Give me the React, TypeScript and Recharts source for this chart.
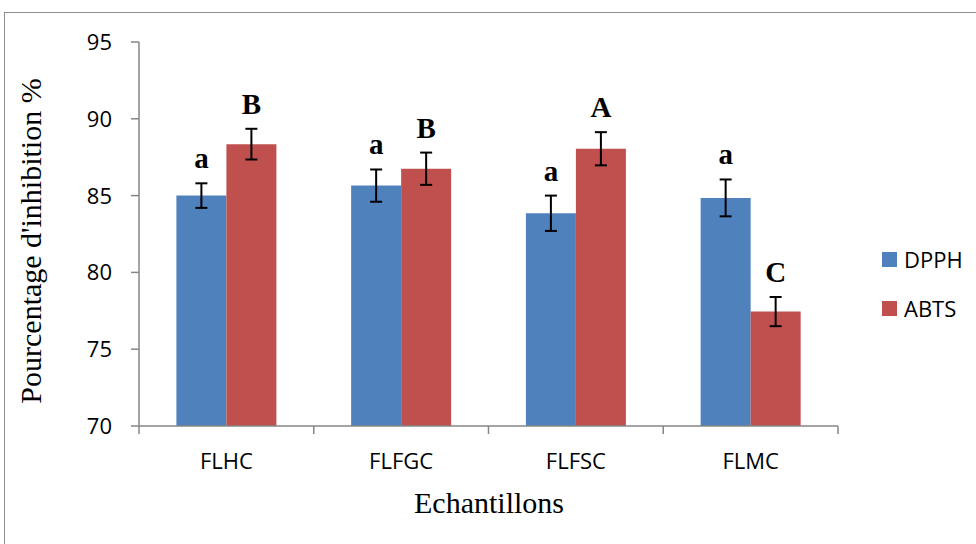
import React from "react";
import { BarChart, Bar, XAxis, YAxis, ErrorBar, LabelList } from "recharts";

const categories = ["FLHC", "FLFGC", "FLFSC", "FLMC"];
const dpphValues = [85.0, 85.65, 83.85, 84.85];
const dpphErrors = [0.8, 1.05, 1.15, 1.2];
const abtsValues = [88.35, 86.75, 88.05, 77.45];
const abtsErrors = [1.0, 1.05, 1.08, 0.95];
const dpphLetters = ["a", "a", "a", "a"];
const abtsLetters = ["B", "B", "A", "C"];
const yTicks = [70, 75, 80, 85, 90, 95];
const seriesNames = ["DPPH", "ABTS"];

const data = categories.map((c, i) => ({
  name: c,
  dpph: dpphValues[i],
  dpphErr: dpphErrors[i],
  abts: abtsValues[i],
  abtsErr: abtsErrors[i],
}));

const BLUE = "#4F81BD";
const RED = "#C0504D";
const AXIS = "#868686";
const SANS = "'Open Sans', 'Noto Sans', sans-serif";
const SERIF = "'Liberation Serif', 'DejaVu Serif', serif";
const SANS_SIZE = 22;

const W = 976;
const H = 544;
const M = { top: 42, right: 138, left: 0, bottom: 0 };
const Y_AXIS_W = 139;
const X_AXIS_H = 118;
const PLOT_W = W - M.right - Y_AXIS_W;

const XTick = (props: any) => {
  const { x, y, payload, index } = props;
  const half = payload && typeof payload.offset === "number" && payload.offset > 0 ? payload.offset : PLOT_W / categories.length / 2;
  return (
    <g>
      <line x1={x - half} y1={y} x2={x - half} y2={y + 8} stroke={AXIS} strokeWidth={1.5} />
      {index === categories.length - 1 && (
        <line x1={x + half} y1={y} x2={x + half} y2={y + 8} stroke={AXIS} strokeWidth={1.5} />
      )}
      <text x={x} y={y + 43} textAnchor="middle" fontFamily={SANS} fontSize={SANS_SIZE} fill="#000">
        {payload.value}
      </text>
    </g>
  );
};

const YTick = (props: any) => {
  const { x, y, payload } = props;
  return (
    <g>
      <line x1={x - 8} y1={y} x2={x} y2={y} stroke={AXIS} strokeWidth={1.5} />
      <text x={x - 27} y={y + 8} textAnchor="end" fontFamily={SANS} fontSize={SANS_SIZE} fill="#000">
        {payload.value}
      </text>
    </g>
  );
};

const makeLetterLabel = (letters: string[], values: number[], errors: number[]) => (props: any) => {
  const { x, y, width, height, index } = props;
  const v = values[index];
  const pxPerUnit = height / (v - 70);
  const errTop = y - errors[index] * pxPerUnit;
  return (
    <text
      x={x + width / 2}
      y={errTop - 15}
      textAnchor="middle"
      fontFamily={SERIF}
      fontWeight="bold"
      fontSize={29}
      fill="#000"
    >
      {letters[index]}
    </text>
  );
};

export default function App() {
  const colors = [BLUE, RED];
  return (
    <div style={{ position: "absolute", left: 0, top: 0, width: W, height: H, overflow: "hidden", background: "#fff" }}>
      <div
        style={{
          position: "absolute",
          left: 4,
          top: 12,
          width: 1200,
          height: 800,
          border: "1.5px solid #8c8c8c",
        }}
      />
      <div style={{ position: "absolute", left: 0, top: 0 }}>
        <BarChart width={W} height={H} data={data} margin={M} barCategoryGap="21.4%" barGap={0}>
          <XAxis
            dataKey="name"
            height={X_AXIS_H}
            axisLine={{ stroke: AXIS, strokeWidth: 1.5 }}
            tickLine={false}
            tickSize={0}
            tickMargin={0}
            interval={0}
            tick={<XTick />}
          />
          <YAxis
            width={Y_AXIS_W}
            domain={[70, 95]}
            ticks={yTicks}
            interval={0}
            allowDataOverflow
            axisLine={{ stroke: AXIS, strokeWidth: 1.5 }}
            tickLine={false}
            tickSize={0}
            tickMargin={0}
            tick={<YTick />}
          />
          <Bar dataKey="dpph" name="DPPH" fill={BLUE} isAnimationActive={false}>
            <ErrorBar dataKey="dpphErr" width={6} stroke="#000" strokeWidth={2} direction="y" />
            <LabelList dataKey="dpph" content={makeLetterLabel(dpphLetters, dpphValues, dpphErrors)} />
          </Bar>
          <Bar dataKey="abts" name="ABTS" fill={RED} isAnimationActive={false}>
            <ErrorBar dataKey="abtsErr" width={6} stroke="#000" strokeWidth={2} direction="y" />
            <LabelList dataKey="abts" content={makeLetterLabel(abtsLetters, abtsValues, abtsErrors)} />
          </Bar>
          <text
            x={41}
            y={241}
            transform="rotate(-90, 41, 241)"
            textAnchor="middle"
            fontFamily={SERIF}
            fontSize={30}
            fill="#000"
          >
            Pourcentage d'inhibition %
          </text>
          <text x={489} y={513} textAnchor="middle" fontFamily={SERIF} fontSize={30} fill="#000">
            Echantillons
          </text>
        </BarChart>
      </div>
      {seriesNames.map((name, i) => (
        <div
          key={name}
          style={{ position: "absolute", left: 882, top: 246 + i * 49, height: 26, display: "flex", alignItems: "center" }}
        >
          <div style={{ width: 15, height: 15, background: colors[i], marginRight: 7 }} />
          <span style={{ fontFamily: SANS, fontSize: SANS_SIZE, color: "#000", lineHeight: "26px" }}>{name}</span>
        </div>
      ))}
    </div>
  );
}
